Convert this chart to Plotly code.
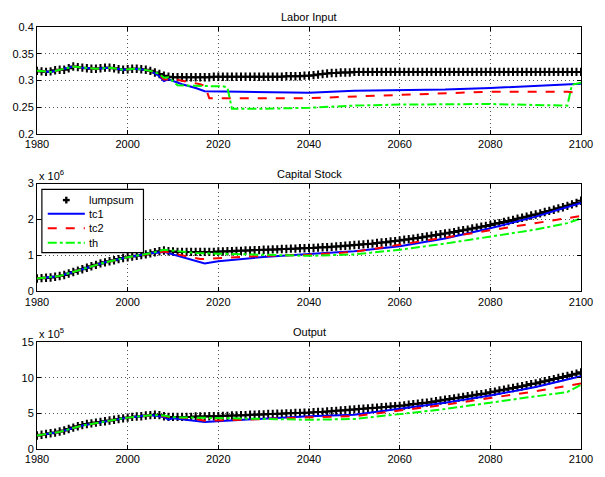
import plotly.graph_objects as go

years = list(range(1980, 2101))

# ---------- Labor Input ----------
labor_lump = [
    0.318, 0.317, 0.316, 0.317, 0.319, 0.320, 0.320, 0.323, 0.326, 0.325,
    0.324, 0.323, 0.322, 0.322, 0.323, 0.324, 0.324, 0.323, 0.321, 0.320,
    0.321, 0.322, 0.322, 0.321, 0.320, 0.318, 0.315, 0.312, 0.309, 0.307,
    0.306, 0.306, 0.306, 0.306, 0.306, 0.306, 0.306, 0.306, 0.306, 0.307,
    0.307, 0.307, 0.307, 0.307, 0.307, 0.307, 0.307, 0.307, 0.307, 0.307,
    0.307, 0.307, 0.307, 0.307, 0.307, 0.308, 0.308, 0.308, 0.308, 0.309,
    0.309, 0.310, 0.311, 0.312, 0.313, 0.314, 0.314, 0.315, 0.315, 0.315,
    0.316, 0.316, 0.316, 0.316, 0.316, 0.316, 0.316, 0.316, 0.316, 0.316,
    0.316, 0.316, 0.316, 0.316, 0.316, 0.316, 0.316, 0.316, 0.316, 0.316,
    0.316, 0.316, 0.316, 0.316, 0.316, 0.316, 0.316, 0.316, 0.316, 0.316,
    0.316, 0.316, 0.316, 0.316, 0.316, 0.316, 0.316, 0.316, 0.316, 0.316,
    0.316, 0.316, 0.316, 0.316, 0.316, 0.316, 0.316, 0.316, 0.316, 0.316,
    0.316,
]
labor_tc1_years = [1980, 1983, 1985, 1988, 1990, 1993, 1996, 1999, 2002, 2005, 2007, 2008, 2009,
                   2012, 2015, 2017, 2025, 2040, 2050, 2060, 2070, 2080, 2090, 2100]
labor_tc1 = [0.318, 0.316, 0.320, 0.326, 0.324, 0.322, 0.324, 0.320, 0.322, 0.318, 0.308, 0.299, 0.302,
             0.293, 0.286, 0.280, 0.279, 0.277, 0.281, 0.282, 0.283, 0.286, 0.290, 0.294]
labor_tc2_years = [1980, 1983, 1985, 1988, 1990, 1993, 1996, 1999, 2002, 2005, 2007, 2008, 2010,
                   2014, 2016, 2017, 2018, 2040, 2050, 2060, 2070, 2080, 2097, 2100]
labor_tc2 = [0.318, 0.316, 0.320, 0.326, 0.324, 0.322, 0.324, 0.320, 0.322, 0.318, 0.310, 0.302, 0.303,
             0.297, 0.293, 0.290, 0.267, 0.267, 0.270, 0.273, 0.277, 0.279, 0.279, 0.276]
labor_th_years = [1980, 1983, 1985, 1988, 1990, 1993, 1996, 1999, 2002, 2005, 2007, 2008, 2009,
                  2010, 2011, 2015, 2021, 2022, 2023, 2030, 2040, 2050, 2060, 2080, 2090, 2097, 2098, 2100]
labor_th = [0.318, 0.316, 0.320, 0.326, 0.324, 0.322, 0.324, 0.320, 0.322, 0.318, 0.312, 0.305, 0.306,
            0.298, 0.291, 0.290, 0.289, 0.287, 0.247, 0.247, 0.249, 0.253, 0.255, 0.256, 0.255, 0.253, 0.292, 0.296]

# ---------- Capital Stock (x 10^6) ----------
cap_lump = [
    0.36, 0.37, 0.38, 0.39, 0.41, 0.43, 0.46, 0.50, 0.54, 0.58,
    0.62, 0.66, 0.70, 0.74, 0.78, 0.81, 0.84, 0.87, 0.90, 0.93,
    0.95, 0.97, 0.99, 1.01, 1.03, 1.06, 1.09, 1.12, 1.14, 1.12,
    1.11, 1.10, 1.10, 1.10, 1.10, 1.10, 1.10, 1.10, 1.10, 1.10,
    1.11, 1.11, 1.12, 1.12, 1.13, 1.13, 1.14, 1.14, 1.15, 1.15,
    1.16, 1.16, 1.17, 1.17, 1.18, 1.18, 1.19, 1.19, 1.20, 1.20,
    1.21, 1.21, 1.22, 1.23, 1.23, 1.24, 1.25, 1.26, 1.27, 1.28,
    1.29, 1.30, 1.31, 1.32, 1.33, 1.35, 1.36, 1.37, 1.39, 1.40,
    1.42, 1.44, 1.45, 1.47, 1.49, 1.51, 1.53, 1.55, 1.57, 1.59,
    1.61, 1.63, 1.65, 1.68, 1.70, 1.72, 1.75, 1.77, 1.80, 1.82,
    1.85, 1.88, 1.90, 1.93, 1.96, 1.99, 2.02, 2.05, 2.08, 2.11,
    2.14, 2.17, 2.21, 2.24, 2.27, 2.31, 2.34, 2.38, 2.42, 2.46,
    2.52,
]
cap_tc1_years = [1980, 1985, 1990, 1995, 2000, 2005, 2008, 2017, 2020, 2030, 2040, 2050, 2060, 2070, 2080, 2090, 2100]
cap_tc1 = [0.36, 0.43, 0.62, 0.81, 0.95, 1.06, 1.10, 0.78, 0.84, 0.96, 1.04, 1.12, 1.26, 1.47, 1.76, 2.08, 2.46]
cap_tc2_years = [1980, 1985, 1990, 1995, 2000, 2005, 2008, 2016, 2020, 2030, 2040, 2050, 2060, 2070, 2080, 2090, 2100]
cap_tc2 = [0.36, 0.43, 0.62, 0.81, 0.95, 1.06, 1.11, 0.90, 0.93, 0.99, 1.02, 1.10, 1.30, 1.50, 1.70, 1.90, 2.10]
cap_th_years = [1980, 1985, 1990, 1995, 2000, 2005, 2008, 2010, 2015, 2020, 2030, 2040, 2050, 2060, 2070, 2080, 2090, 2097, 2100]
cap_th = [0.36, 0.43, 0.62, 0.81, 0.95, 1.06, 1.16, 1.14, 1.07, 1.05, 1.01, 0.99, 1.03, 1.16, 1.33, 1.53, 1.72, 1.90, 2.03]

# ---------- Output (x 10^5) ----------
out_lump = [
    1.9, 2.0, 2.1, 2.2, 2.3, 2.45, 2.6, 2.8, 3.0, 3.2,
    3.35, 3.5, 3.6, 3.7, 3.8, 3.9, 4.0, 4.1, 4.2, 4.3,
    4.4, 4.5, 4.55, 4.6, 4.7, 4.75, 4.8, 4.75, 4.6, 4.5,
    4.5, 4.5, 4.5, 4.5, 4.5, 4.55, 4.55, 4.55, 4.6, 4.6,
    4.6, 4.65, 4.65, 4.7, 4.7, 4.75, 4.75, 4.8, 4.8, 4.85,
    4.85, 4.9, 4.9, 4.95, 4.95, 5.0, 5.0, 5.05, 5.05, 5.1,
    5.1, 5.15, 5.2, 5.2, 5.25, 5.3, 5.35, 5.4, 5.45, 5.5,
    5.55, 5.6, 5.65, 5.7, 5.75, 5.8, 5.85, 5.9, 5.95, 6.0,
    6.05, 6.1, 6.2, 6.3, 6.35, 6.45, 6.5, 6.6, 6.7, 6.8,
    6.9, 7.0, 7.1, 7.2, 7.3, 7.4, 7.5, 7.6, 7.7, 7.8,
    7.95, 8.05, 8.2, 8.3, 8.45, 8.55, 8.7, 8.8, 8.95, 9.1,
    9.2, 9.35, 9.5, 9.65, 9.8, 9.95, 10.1, 10.25, 10.4, 10.55,
    10.75,
]
out_tc1_years = [1980, 1985, 1990, 1995, 2000, 2005, 2008, 2009, 2010, 2017, 2020, 2030, 2040, 2050, 2060, 2070, 2080, 2090, 2100]
out_tc1 = [1.9, 2.4, 3.3, 3.9, 4.4, 4.75, 4.5, 4.1, 4.3, 3.8, 3.9, 4.3, 4.6, 4.8, 5.6, 6.5, 7.5, 8.7, 10.2]
out_tc2_years = [1980, 1985, 1990, 1995, 2000, 2005, 2008, 2010, 2015, 2017, 2020, 2030, 2040, 2050, 2060, 2070, 2080, 2090, 2100]
out_tc2 = [1.9, 2.4, 3.3, 3.9, 4.4, 4.75, 4.6, 4.4, 4.2, 3.95, 4.0, 4.2, 4.45, 4.6, 5.4, 6.2, 7.15, 8.1, 9.2]
out_th_years = [1980, 1985, 1990, 1995, 2000, 2005, 2008, 2010, 2020, 2030, 2040, 2050, 2060, 2070, 2080, 2090, 2097, 2100]
out_th = [1.9, 2.4, 3.3, 3.9, 4.4, 4.75, 4.7, 4.45, 4.3, 4.15, 4.1, 4.2, 4.9, 5.6, 6.5, 7.4, 8.0, 9.0]

x_ticks = [1980, 2000, 2020, 2040, 2060, 2080, 2100]
labor_ticks = [0.2, 0.25, 0.3, 0.35, 0.4]
labor_ticktext = ["0.2", "0.25", "0.3", "0.35", "0.4"]
cap_ticks = [0, 1, 2, 3]
out_ticks = [0, 5, 10, 15]

titles = ["Labor Input", "Capital Stock", "Output"]
series_names = ["lumpsum", "tc1", "tc2", "th"]

FONT = "Liberation Sans, Arial, Helvetica, sans-serif"

panels = [
    (labor_lump, (labor_tc1_years, labor_tc1), (labor_tc2_years, labor_tc2), (labor_th_years, labor_th)),
    (cap_lump, (cap_tc1_years, cap_tc1), (cap_tc2_years, cap_tc2), (cap_th_years, cap_th)),
    (out_lump, (out_tc1_years, out_tc1), (out_tc2_years, out_tc2), (out_th_years, out_th)),
]

fig = go.Figure()
line_styles = [("#0000FF", "solid"), ("#FF0000", "dash"), ("#00FF00", "dashdot")]

for i, (lump, *others) in enumerate(panels):
    xa = "x" if i == 0 else f"x{i+1}"
    ya = "y" if i == 0 else f"y{i+1}"
    fig.add_trace(go.Scatter(
        x=years, y=lump, mode="markers", name=series_names[0],
        marker=dict(symbol="cross-thin", size=6, line=dict(color="black", width=2)),
        xaxis=xa, yaxis=ya, showlegend=False,
    ))
    for k, (yrs, vals) in enumerate(others):
        col, dash = line_styles[k]
        fig.add_trace(go.Scatter(
            x=yrs, y=vals, mode="lines", name=series_names[k + 1],
            line=dict(color=col, width=2, dash=dash),
            xaxis=xa, yaxis=ya, showlegend=False,
        ))

# layout geometry
W, H = 605, 477
ml, mr, mt, mb = 34, 14, 27, 16
pw = W - ml - mr
ph = H - mt - mb
def dom(top_px, bot_px):
    return [(H - mb - bot_px) / ph, (H - mb - top_px) / ph]
def px_x(px):
    return (px - ml) / pw
def px_y(py):
    return (H - mb - py) / ph

doms = [dom(27, 137), dom(188, 299), dom(351, 461)]
yranges = [[0.2, 0.4], [0, 3], [0, 15]]
ytickvals = [labor_ticks, cap_ticks, out_ticks]
yticktexts = [labor_ticktext, [str(v) for v in cap_ticks], [str(v) for v in out_ticks]]

axis_common = dict(
    showline=True, linecolor="black", linewidth=1, mirror="ticks",
    ticks="inside", ticklen=4, tickcolor="black",
    showgrid=True, gridcolor="#555555", griddash="1px,3px", gridwidth=1,
    zeroline=False, tickfont=dict(family=FONT, size=11, color="black"),
)

layout = dict(
    width=W, height=H,
    margin=dict(l=ml, r=mr, t=mt, b=mb),
    paper_bgcolor="white", plot_bgcolor="white",
    font=dict(family=FONT, size=11, color="black"),
    showlegend=False,
)
for i in range(3):
    xk = "xaxis" if i == 0 else f"xaxis{i+1}"
    yk = "yaxis" if i == 0 else f"yaxis{i+1}"
    ya = "y" if i == 0 else f"y{i+1}"
    xa = "x" if i == 0 else f"x{i+1}"
    layout[xk] = dict(axis_common, domain=[0, 1], anchor=ya, range=[1980, 2100],
                      tickvals=x_ticks, ticktext=[str(v) for v in x_ticks])
    layout[yk] = dict(axis_common, domain=doms[i], anchor=xa, range=yranges[i],
                      tickvals=ytickvals[i], ticktext=yticktexts[i])

fig.update_layout(**layout)

annotations = []
for i, t in enumerate(titles):
    annotations.append(dict(text=t, x=0.5, y=doms[i][1], xref="paper", yref="paper",
                            xanchor="center", yanchor="bottom", yshift=2, showarrow=False,
                            font=dict(family=FONT, size=11, color="black")))
for i, exp in [(1, "6"), (2, "5")]:
    annotations.append(dict(text=f"x 10<sup>{exp}</sup>", x=0, y=doms[i][1], xref="paper", yref="paper",
                            xanchor="left", yanchor="bottom", yshift=0, showarrow=False,
                            font=dict(family=FONT, size=11, color="black")))

# ----- legend box (drawn in panel 2, top-left) -----
shapes = []
shapes.append(dict(type="rect", xref="paper", yref="paper",
                   x0=px_x(39), x1=px_x(143), y0=px_y(259), y1=px_y(194),
                   line=dict(color="black", width=1.2), fillcolor="white", layer="above"))
entry_y = [205, 219, 234, 249]
# lumpsum plus glyph
cx, cy = 64, entry_y[0]
shapes.append(dict(type="line", xref="paper", yref="paper", x0=px_x(cx - 3.5), x1=px_x(cx + 3.5),
                   y0=px_y(cy), y1=px_y(cy), line=dict(color="black", width=2.4), layer="above"))
shapes.append(dict(type="line", xref="paper", yref="paper", x0=px_x(cx), x1=px_x(cx),
                   y0=px_y(cy - 3.5), y1=px_y(cy + 3.5), line=dict(color="black", width=2.4), layer="above"))
for k, (col, dash) in enumerate(line_styles):
    yy = entry_y[k + 1]
    shapes.append(dict(type="line", xref="paper", yref="paper", x0=px_x(45), x1=px_x(83),
                       y0=px_y(yy), y1=px_y(yy), line=dict(color=col, width=2, dash=dash), layer="above"))
for k, name in enumerate(series_names):
    annotations.append(dict(text=name, x=px_x(85), y=px_y(entry_y[k]), xref="paper", yref="paper",
                            xanchor="left", yanchor="middle", showarrow=False,
                            font=dict(family=FONT, size=11, color="black")))

fig.update_layout(annotations=annotations, shapes=shapes)

fig.write_html("out.html", config={"displayModeBar": False},
               post_script="document.body.style.margin='0';document.body.style.overflow='hidden';")
